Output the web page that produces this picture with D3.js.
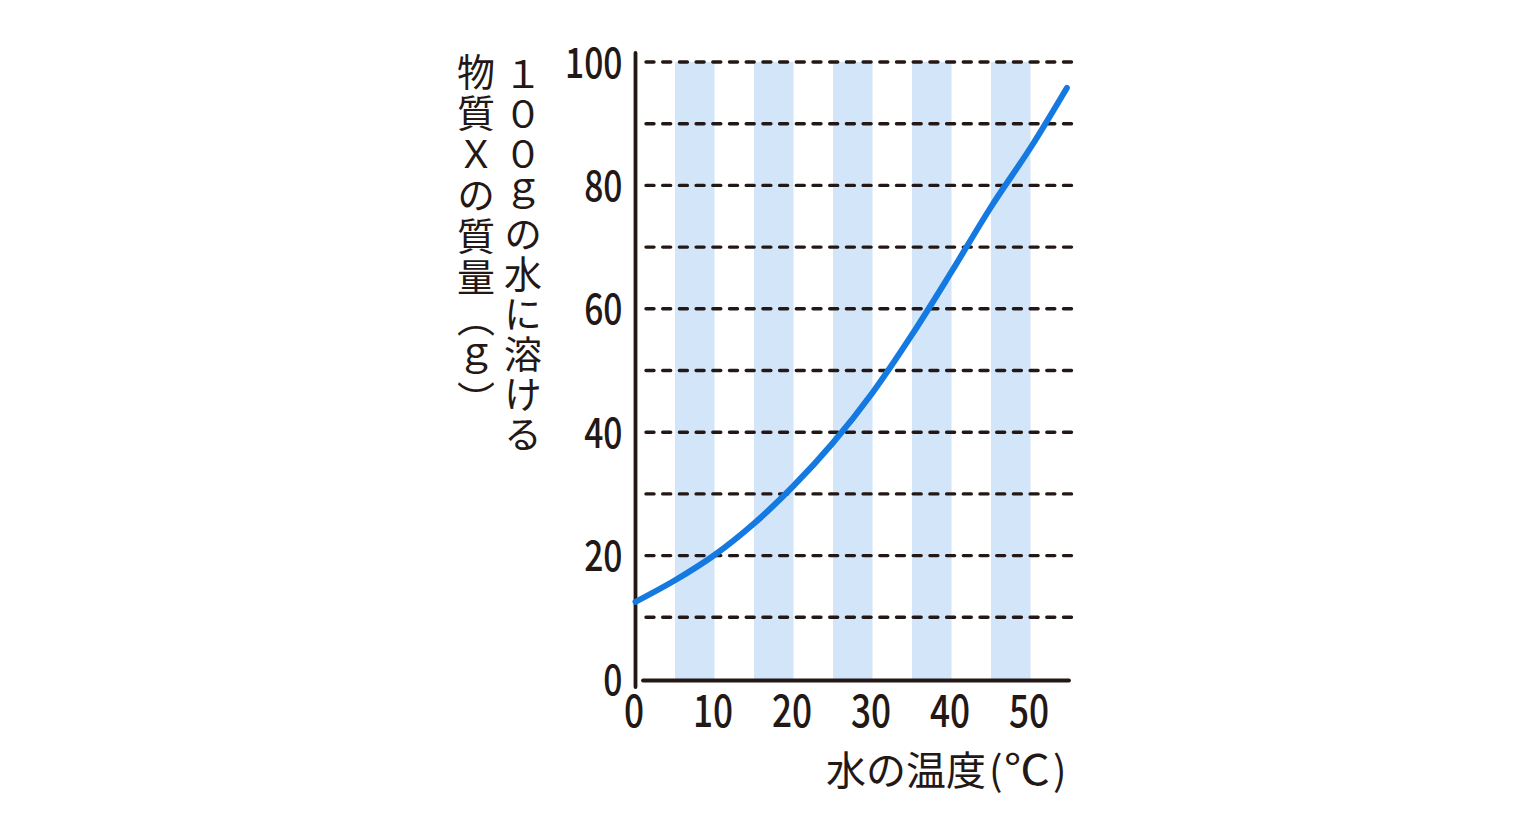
<!DOCTYPE html>
<html><head><meta charset="utf-8">
<script src="https://cdn.jsdelivr.net/npm/d3@7"></script>
<style>
html,body{margin:0;padding:0;background:#fff;}
svg{display:block;}
text{font-family:"Noto Sans CJK JP","Noto Sans",sans-serif;fill:#231815;}
</style>
</head><body>
<svg id="chart" width="1536" height="831"></svg>
<script>
// ---- data ----
const temperatures   = [0, 5, 10, 15, 20, 25, 30, 35, 40, 45, 50, 54.6];
const massDissolved  = [12.5, 16, 20.1, 25.2, 31.3, 38.3, 46.4, 55.8, 66, 76.5, 86.1, 95.8];
const xTickValues    = [0, 10, 20, 30, 40, 50];
const yTickValues    = [0, 20, 40, 60, 80, 100];
const gridValues     = [10, 20, 30, 40, 50, 60, 70, 80, 90, 100];
const bandStarts     = [5, 15, 25, 35, 45];
const bandWidth      = 5;
const xTitleMain     = "水の温度";
const xTitleUnit     = ["(", "℃", ")"];
const yTitleRight    = "１００ｇの水に溶ける";
const yTitleLeft     = "物質Ｘの質量（ｇ）";

const ink = "#231815";
const svg = d3.select("#chart");

const x = d3.scaleLinear().domain([0, 55]).range([635.5, 1070]);
const y = d3.scaleLinear().domain([0, 100]).range([679, 62]);

// bands
svg.append("g").selectAll("rect").data(bandStarts).join("rect")
  .attr("x", d => x(d))
  .attr("width", d => x(d + bandWidth) - x(d))
  .attr("y", y(100))
  .attr("height", y(0) - y(100))
  .attr("fill", "#d3e5f8");

// dashed grid
svg.append("g").selectAll("line").data(gridValues).join("line")
  .attr("x1", 646).attr("x2", 1072)
  .attr("y1", d => y(d)).attr("y2", d => y(d))
  .attr("stroke", ink).attr("stroke-width", 3.4)
  .attr("stroke-linecap", "round")
  .attr("stroke-dasharray", "8 8.7");

// axes lines
svg.append("line").attr("x1", x(0)).attr("x2", x(0)).attr("y1", 53).attr("y2", 687)
  .attr("stroke", ink).attr("stroke-width", 3.8).attr("stroke-linecap", "round");
svg.append("line").attr("x1", 643).attr("x2", 1069).attr("y1", y(0) + 1.5).attr("y2", y(0) + 1.5)
  .attr("stroke", ink).attr("stroke-width", 3.8).attr("stroke-linecap", "round");

// curve
const pts = temperatures.map((t, i) => [t, massDissolved[i]]);
svg.append("path").datum(pts)
  .attr("d", d3.line().x(d => x(d[0])).y(d => y(d[1])).curve(d3.curveCatmullRom))
  .attr("fill", "none").attr("stroke", "#1479e0").attr("stroke-width", 6)
  .attr("stroke-linecap", "round");

// y axis labels
const sx = 0.8;
const yAxis = svg.append("g").attr("transform", `translate(${x(0)},0)`)
  .call(d3.axisLeft(y).tickValues(yTickValues).tickSize(0).tickFormat(d3.format("d")));
yAxis.select(".domain").remove();
yAxis.selectAll("text")
  .attr("x", -13 / sx).attr("dy", "0.36em")
  .attr("transform", `scale(${sx},1)`)
  .style("font-size", "42px").style("font-weight", 500)
  .style("font-family", '"Noto Sans CJK JP"').attr("fill", ink);

// x axis labels
const xAxis = svg.append("g").attr("transform", `translate(0,${y(0)})`)
  .call(d3.axisBottom(x).tickValues(xTickValues).tickSize(0).tickFormat(d3.format("d")));
xAxis.select(".domain").remove();
xAxis.selectAll(".tick text")
  .attr("y", 0).attr("dy", 0)
  .attr("transform", `translate(-2,48) scale(${sx},1)`)
  .style("font-size", "44px").style("font-weight", 500)
  .style("font-family", '"Noto Sans CJK JP"').attr("fill", ink);

// x title
const xt = svg.append("text").attr("y", 785).style("font-size", "40px");
xt.append("tspan").attr("x", 826).text(xTitleMain);
xt.append("tspan").attr("x", 989).text(xTitleUnit[0]);
xt.append("tspan").attr("x", 1004).attr("textLength", 46).attr("lengthAdjust", "spacingAndGlyphs")
  .style("font-size", "42px").text(xTitleUnit[1]);
xt.append("tspan").attr("x", 1053).text(xTitleUnit[2]);

// y titles (vertical)
svg.append("text").attr("x", 523).attr("y", 55)
  .style("writing-mode", "vertical-rl").style("text-orientation", "upright")
  .style("font-size", "38px").style("letter-spacing", "2px")
  .text(yTitleRight);
svg.append("text").attr("x", 476).attr("y", 53)
  .style("writing-mode", "vertical-rl").style("text-orientation", "upright")
  .style("font-size", "38px").style("letter-spacing", "3px")
  .text(yTitleLeft);
</script>
</body></html>
